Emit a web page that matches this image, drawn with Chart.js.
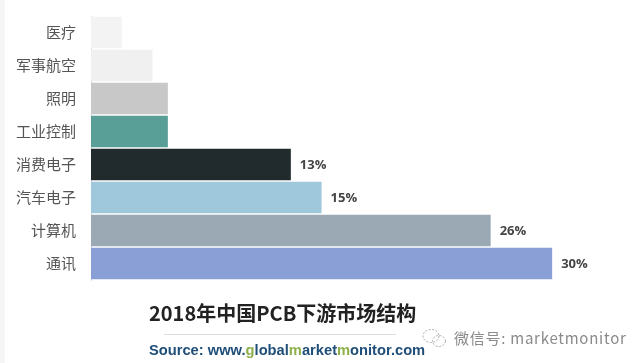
<!DOCTYPE html>
<html>
<head>
<meta charset="utf-8">
<script src="https://cdn.jsdelivr.net/npm/chart.js@4"></script>
<style>
  html, body { margin: 0; padding: 0; background: #fff; }
  #wrap { position: relative; width: 640px; height: 363px; overflow: hidden; }
  #strip { position: absolute; left: 0; top: 0; width: 5px; height: 363px; background: #f6f6f6; }
  #myChart { position: absolute; left: 0; top: 0; }
  #title { position: absolute; left: 149px; top: 300px; font: bold 20px "Noto Sans CJK SC", sans-serif; line-height: 26px; color: #222; white-space: nowrap; }
  #rule { position: absolute; left: 164px; top: 334px; width: 232px; height: 1px; background: #ddd; }
  #source { position: absolute; left: 149px; top: 341px; font: bold 14.7px "Liberation Sans", sans-serif; line-height: 18px; color: #1f4e79; white-space: nowrap; }
  #source b { color: #8db04a; }
  #mark { position: absolute; left: 421px; top: 327px; }
  #wechat { position: absolute; left: 454px; top: 328px; font: 15px "Noto Sans CJK SC", sans-serif; letter-spacing: 0.75px; line-height: 20px; color: #8a8a8a; white-space: nowrap; }
</style>
</head>
<body>
<div id="wrap">
  <div id="strip"></div>
  <canvas id="myChart" width="640" height="363"></canvas>
  <div id="title">2018年中国PCB下游市场结构</div>
  <div id="rule"></div>
  <div id="source">Source: www.<b>g</b>lobal<b>m</b>arket<b>m</b>onitor.com</div>
  <svg id="mark" width="28" height="22" viewBox="0 0 28 22" fill="none" stroke="#aaa" stroke-width="1" stroke-dasharray="2 1.5">
    <ellipse cx="10" cy="9" rx="8" ry="6.5"></ellipse>
    <ellipse cx="18" cy="14" rx="6.5" ry="5.5"></ellipse>
  </svg>
  <div id="wechat">微信号: marketmonitor</div>
</div>
<script>
const categories = ["医疗", "军事航空", "照明", "工业控制", "消费电子", "汽车电子", "计算机", "通讯"];
const shares = [2, 4, 5, 5, 13, 15, 26, 30];
const barColors = ["#f3f3f3", "#f0f0f0", "#c8c8c8", "#5a9f97", "#212b2d", "#a0c8dc", "#9ba9b5", "#8a9fd6"];
const shownLabels = ["", "", "", "", "13%", "15%", "26%", "30%"];

// value labels to the right of the bars
const barLabels = {
  id: "barLabels",
  afterDatasetsDraw(chart) {
    const ctx = chart.ctx;
    const bars = chart.getDatasetMeta(0).data;
    ctx.save();
    ctx.font = 'bold 13px "Open Sans", sans-serif';
    ctx.fillStyle = "#444";
    ctx.textAlign = "left";
    ctx.textBaseline = "middle";
    bars.forEach((bar, i) => {
      if (shownLabels[i]) ctx.fillText(shownLabels[i], bar.x + 9, bar.y + 1);
    });
    ctx.restore();
  },
};

const ctx = document.getElementById("myChart").getContext("2d");
new Chart(ctx, {
  type: "bar",
  data: {
    labels: categories,
    datasets: [
      {
        data: shares,
        backgroundColor: barColors,
        barPercentage: 0.95,
        categoryPercentage: 1,
      },
    ],
  },
  options: {
    indexAxis: "y",
    responsive: false,
    animation: false,
    layout: { padding: { top: 9, right: 11, bottom: 83, left: 0 } },
    plugins: { legend: { display: false }, tooltip: { enabled: false } },
    scales: {
      x: { display: false, min: 0, max: 35 },
      y: {
        afterFit(axis) { axis.width = 91; },
        border: { color: "#ddd" },
        grid: { display: false },
        ticks: {
          padding: 7,
          color: "#555",
          font: { family: '"Noto Sans CJK SC", sans-serif', size: 15 },
        },
      },
    },
  },
  plugins: [barLabels],
});
</script>
</body>
</html>
